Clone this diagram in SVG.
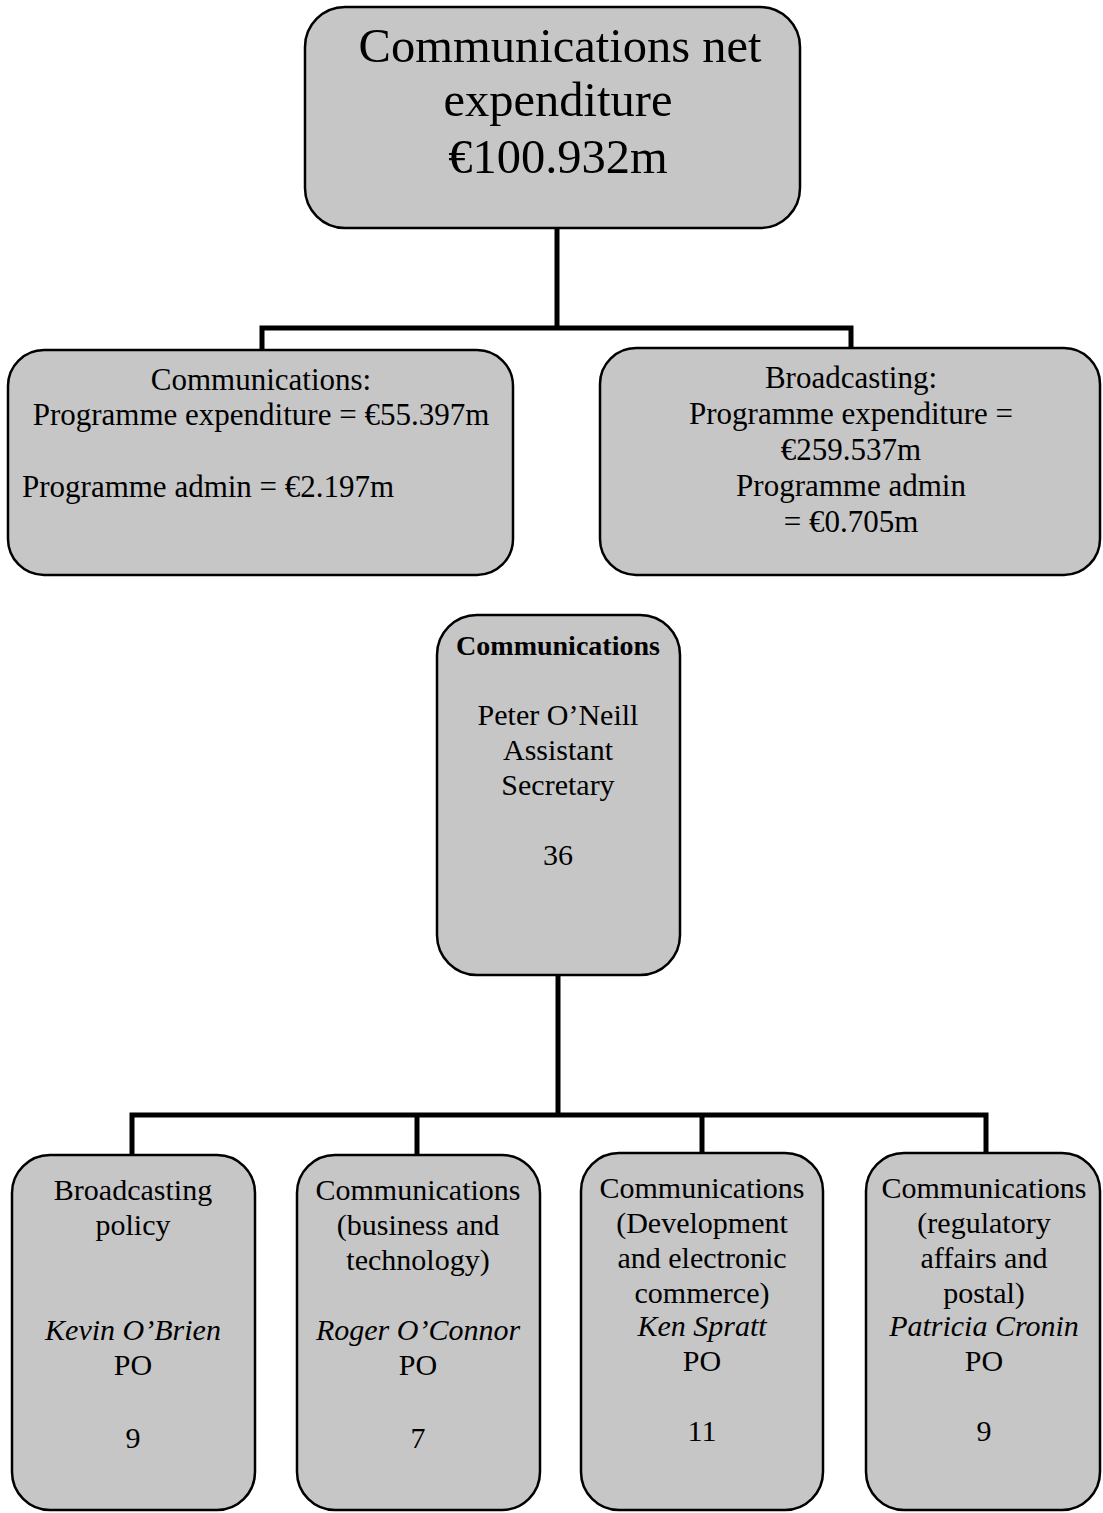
<svg xmlns="http://www.w3.org/2000/svg" width="1103" height="1513" viewBox="0 0 1103 1513">
<style>
.box{fill:#c6c6c6;stroke:#000;stroke-width:2.5}
.conn{fill:none;stroke:#000;stroke-width:5;stroke-linejoin:miter;stroke-linecap:square}
text{font-family:"Liberation Serif","Times New Roman",serif;fill:#000}
.t48{font-size:48.5px;text-anchor:middle}
.t31{font-size:31px;text-anchor:middle}
.t30{font-size:30px;text-anchor:middle}
.b{font-weight:bold;font-size:28px;text-anchor:middle}
.i{font-style:italic}
</style>
<rect width="1103" height="1513" fill="#fff"/>
<g id="connectors">
<path class="conn" d="M557,228 V328 M262,350 V328 H851 V348"/>
<path class="conn" d="M558,975 V1115 M132,1155 V1115 H986 V1153 M417,1115 V1155 M702,1115 V1155"/>
</g>
<g id="node-total">
<rect class="box" x="305" y="7" width="495" height="221" rx="40" ry="40"/>
<text class="t48" x="560" y="62">Communications net</text>
<text class="t48" x="558" y="116">expenditure</text>
<text class="t48" x="558" y="173">€100.932m</text>
</g>
<g id="node-communications-exp">
<rect class="box" x="8" y="350" width="505" height="225" rx="36" ry="36"/>
<text class="t31" x="261" y="390">Communications:</text>
<text class="t31" x="261" y="425">Programme expenditure = €55.397m</text>
<text style="font-size:31px" x="22" y="497">Programme admin = €2.197m</text>
</g>
<g id="node-broadcasting-exp">
<rect class="box" x="600" y="348" width="500" height="227" rx="36" ry="36"/>
<text class="t31" x="851" y="388">Broadcasting:</text>
<text class="t31" x="851" y="424">Programme expenditure =</text>
<text class="t31" x="851" y="460">€259.537m</text>
<text class="t31" x="851" y="496">Programme admin</text>
<text class="t31" x="851" y="532">= €0.705m</text>
</g>
<g id="node-communications-as">
<rect class="box" x="437" y="615" width="243" height="360" rx="40" ry="40"/>
<text class="b" x="558" y="655">Communications</text>
<text class="t30" x="558" y="725">Peter O’Neill</text>
<text class="t30" x="558" y="760">Assistant</text>
<text class="t30" x="558" y="795">Secretary</text>
<text class="t30" x="558" y="865">36</text>
</g>
<g id="node-broadcasting-policy">
<rect class="box" x="12" y="1155" width="243" height="355" rx="38" ry="38"/>
<text class="t30" x="133" y="1200">Broadcasting</text>
<text class="t30" x="133" y="1235">policy</text>
<text class="t30 i" x="133" y="1340">Kevin O’Brien</text>
<text class="t30" x="133" y="1375">PO</text>
<text class="t30" x="133" y="1448">9</text>
</g>
<g id="node-business-technology">
<rect class="box" x="297" y="1155" width="243" height="355" rx="38" ry="38"/>
<text class="t30" x="418" y="1200">Communications</text>
<text class="t30" x="418" y="1235">(business and</text>
<text class="t30" x="418" y="1270">technology)</text>
<text class="t30 i" x="418" y="1340">Roger O’Connor</text>
<text class="t30" x="418" y="1375">PO</text>
<text class="t30" x="418" y="1448">7</text>
</g>
<g id="node-development-ecommerce">
<rect class="box" x="581" y="1153" width="242" height="357" rx="38" ry="38"/>
<text class="t30" x="702" y="1198">Communications</text>
<text class="t30" x="702" y="1233">(Development</text>
<text class="t30" x="702" y="1268">and electronic</text>
<text class="t30" x="702" y="1303">commerce)</text>
<text class="t30 i" x="702" y="1336">Ken Spratt</text>
<text class="t30" x="702" y="1371">PO</text>
<text class="t30" x="702" y="1441">11</text>
</g>
<g id="node-regulatory-postal">
<rect class="box" x="866" y="1153" width="234" height="357" rx="38" ry="38"/>
<text class="t30" x="984" y="1198">Communications</text>
<text class="t30" x="984" y="1233">(regulatory</text>
<text class="t30" x="984" y="1268">affairs and</text>
<text class="t30" x="984" y="1303">postal)</text>
<text class="t30 i" x="984" y="1336">Patricia Cronin</text>
<text class="t30" x="984" y="1371">PO</text>
<text class="t30" x="984" y="1441">9</text>
</g>
</svg>
